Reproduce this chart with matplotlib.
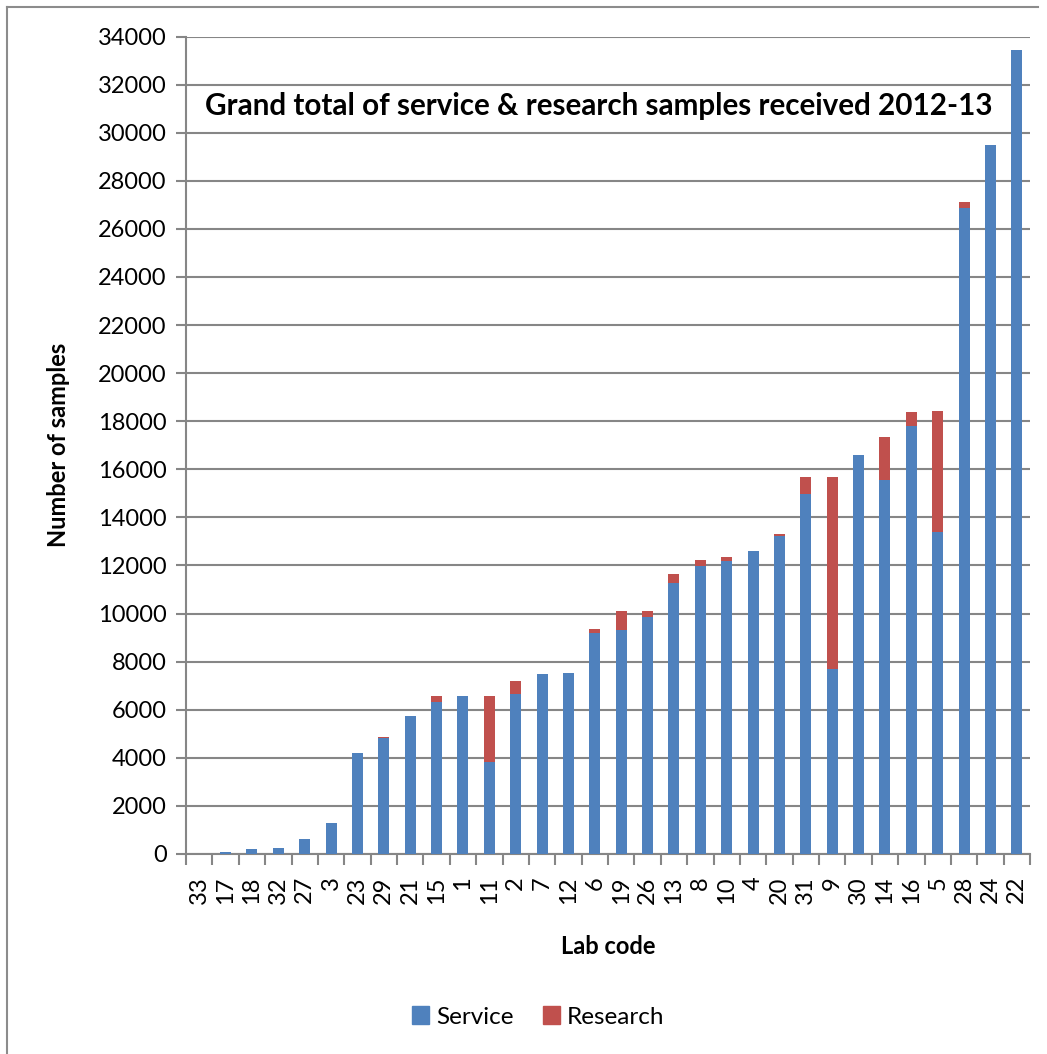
import matplotlib
matplotlib.use("Agg")
import matplotlib.pyplot as plt
import numpy as np
from matplotlib.lines import Line2D

plt.rcParams['font.family'] = ['Lato', 'DejaVu Sans']

lab_codes = ["33", "17", "18", "32", "27", "3", "23", "29", "21", "15", "1", "11",
             "2", "7", "12", "6", "19", "26", "13", "8", "10", "4", "20", "31",
             "9", "30", "14", "16", "5", "28", "24", "22"]
service = [0, 80, 190, 250, 640, 1290, 4200, 4810, 5750, 6320, 6580, 3810,
           6640, 7470, 7510, 9180, 9330, 9850, 11270, 11990, 12170, 12590, 13210, 14960,
           7680, 16580, 15550, 17800, 13390, 26880, 29490, 33420]
research = [0, 0, 0, 0, 0, 0, 0, 40, 0, 250, 0, 2750,
            540, 0, 30, 190, 770, 270, 360, 230, 190, 0, 90, 720,
            8020, 0, 1790, 590, 5040, 220, 0, 0]

blue = "#4F81BD"
red = "#C0504D"
grid_gray = "#868686"
fs = 17

fig = plt.figure(figsize=(10.47, 10.54), dpi=100)
W, H = 1047, 1054
ax = fig.add_axes([186 / W, (H - 854) / H, (1030 - 186) / W, (854 - 36.5) / H])

x = np.arange(len(lab_codes))
bw = 0.42
ax.bar(x, service, width=bw, color=blue, linewidth=0, label="Service", zorder=3)
ax.bar(x, research, width=bw, bottom=service, color=red, linewidth=0,
       label="Research", zorder=3)

ax.set_xlim(-0.5, len(lab_codes) - 0.5)
ax.set_ylim(0, 34000)
ax.set_yticks(np.arange(0, 34001, 2000))
ax.yaxis.grid(True, color=grid_gray, linewidth=1.5, zorder=0)
ax.set_axisbelow(True)

for s in ["top", "right"]:
    ax.spines[s].set_visible(False)
for s in ["left", "bottom"]:
    ax.spines[s].set_color(grid_gray)
    ax.spines[s].set_linewidth(1.5)

ax.tick_params(axis="y", length=7, width=1.5, color=grid_gray, labelsize=fs, pad=7)

# category labels centred under bars, tick marks at category boundaries
ax.set_xticks(x)
ax.set_xticklabels(lab_codes, rotation=90, fontsize=fs, va="top")
ax.tick_params(axis="x", length=0, pad=16)
ax.set_xticks(np.arange(-0.5, len(lab_codes)), minor=True)
ax.tick_params(axis="x", which="minor", length=8, width=1.5, color=grid_gray)

ax.set_ylabel("Number of samples", fontsize=fs, fontweight="bold", labelpad=20)
ax.set_xlabel("Lab code", fontsize=fs, fontweight="bold", labelpad=22)

ax.text(0.022, 0.915, "Grand total of service & research samples received 2012-13",
        transform=ax.transAxes, fontsize=21.3, fontweight="bold", va="center", ha="left")

handles = [plt.Rectangle((0, 0), 1, 1, color=blue), plt.Rectangle((0, 0), 1, 1, color=red)]
fig.legend(handles, ["Service", "Research"], loc="center", bbox_to_anchor=(538 / W, (H - 1017) / H),
           ncol=2, frameon=False, fontsize=17.5, handlelength=0.7, handleheight=0.7,
           handletextpad=0.3, columnspacing=1.2)

# chart frame (left and top edges)
fig.add_artist(Line2D([7 / W, 7 / W], [0, (H - 7) / H], transform=fig.transFigure,
                      color="#8C8C8C", linewidth=1.5))
fig.add_artist(Line2D([7 / W, 1038 / W], [(H - 7) / H, (H - 7) / H], transform=fig.transFigure,
                      color="#8C8C8C", linewidth=1.5))

fig.savefig("out.png", dpi=100, facecolor="white")
